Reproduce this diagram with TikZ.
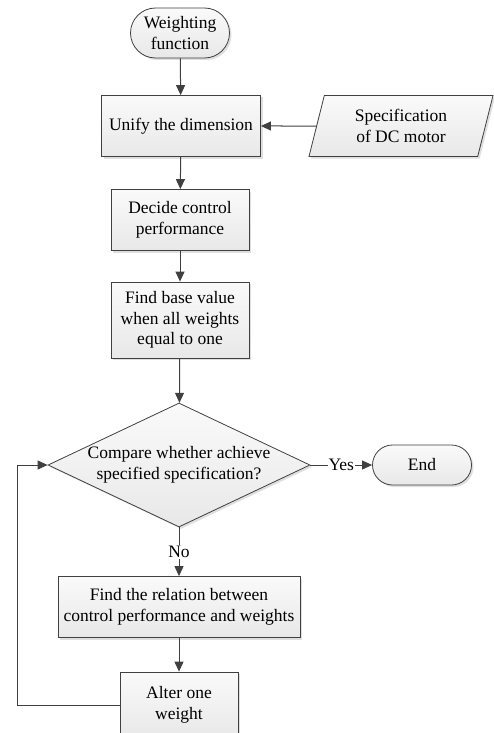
\documentclass[tikz,border=0pt]{standalone}
\usepackage{fontspec}
\setmainfont{Liberation Serif}
\usetikzlibrary{arrows.meta,shapes.geometric,shapes.misc,shadows}

\begin{document}
\begin{tikzpicture}[
    % 定義樣式
    x=1pt, y=-1pt,
    ->, >={Triangle[length=10pt,width=9pt]},
    draw=black!75, line width=1pt,
    every node/.style={font=\fontsize{17.5}{20.7}\selectfont, align=center},
    base/.style={draw=black!75, line width=0.8pt, top color=gray!4, bottom color=gray!18,
        drop shadow={shadow xshift=2pt, shadow yshift=-2pt, fill=gray!50, opacity=.5}},
    process/.style={base, rectangle, inner sep=2pt},
    terminal/.style={base, rounded rectangle, inner sep=2pt},
    io/.style={base, trapezium, trapezium left angle=69, trapezium right angle=111,
        trapezium stretches body},
    decision/.style={base, diamond, aspect=2.1, inner sep=0pt},
    answer/.style={fill=white, inner sep=1pt}
]

    % 畫布範圍
    \useasboundingbox (0,0) rectangle (493,733);

    % --- 1. 上半部流程 ---
    \node[terminal, minimum width=103pt, minimum height=50pt] (start) at (180,33) {Weighting\\function};
    \node[process, minimum width=159pt, minimum height=61pt] (unify) at (181,126) {Unify the dimension};
    \node[io, minimum width=184pt, minimum height=61pt] (spec) at (401,126) {Specification\\of DC motor};
    \node[process, minimum width=138pt, minimum height=61pt] (decide) at (180,220) {Decide control\\performance};
    \node[process, minimum width=138pt, minimum height=76pt] (findbase) at (180,320) {Find base value\\when all weights\\equal to one};

    % --- 2. 判斷 ---
    \node[decision, minimum width=262pt, minimum height=124pt] (cmp) at (179,465) {Compare whether achieve\\specified specification?};
    \node[terminal, minimum width=103pt, minimum height=40pt] (finish) at (422,465) {End};

    % --- 3. 下半部流程 ---
    \node[process, minimum width=242pt, minimum height=61pt] (relation) at (179,607) {Find the relation between\\control performance and weights};
    \node[process, minimum width=118pt, minimum height=66pt] (alter) at (179,705) {Alter one\\weight};
    \coordinate (back) at (17,705);

    % --- 4. 連接線 ---
    \draw (start) -- (unify);
    \draw (spec) -- (unify);
    \draw (unify) -- (decide);
    \draw (decide) -- (findbase);
    \draw (findbase) -- (cmp);
    \draw (cmp) -- node[answer] {Yes} (finish);
    \draw (cmp) -- node[answer] {No} (relation);
    \draw (relation) -- (alter);
    \draw (alter.west) -- (back) |- (cmp.west);

\end{tikzpicture}
\end{document}
